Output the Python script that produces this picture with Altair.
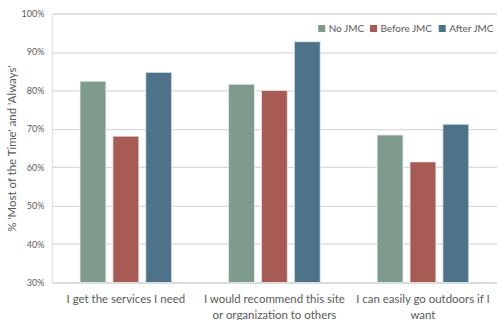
import altair as alt
import pandas as pd

categories = [
    "I get the services I need",
    "I would recommend this site\nor organization to others",
    "I can easily go outdoors if I\nwant",
]
series = ["No JMC", "Before JMC", "After JMC"]
no_jmc = [82.4, 81.6, 68.4]
before_jmc = [68.1, 80.0, 61.4]
after_jmc = [84.7, 92.7, 71.2]
colors = ["#7f9b8d", "#a85b55", "#4e7389"]

rows = []
for i, c in enumerate(categories):
    for s, vals in zip(series, [no_jmc, before_jmc, after_jmc]):
        rows.append({"cat": c, "series": s, "value": vals[i] / 100})
df = pd.DataFrame(rows)

FONT = "Lato"
GRAY = "#595959"

chart = (
    alt.Chart(df)
    .mark_bar(stroke="#e8eef0", strokeWidth=0.8)
    .encode(
        x=alt.X(
            "cat:N",
            sort=categories,
            scale=alt.Scale(paddingInner=0.383, paddingOuter=0.19),
            axis=alt.Axis(
                title=None,
                labelAngle=0,
                labelExpr="split(datum.label, '\\n')",
                labelFont=FONT,
                labelFontSize=11.5,
                labelColor=GRAY,
                labelPadding=11,
                labelLineHeight=16,
                ticks=False,
                domainColor="#d9d9d9",
                labelLimit=200,
            ),
        ),
        xOffset=alt.XOffset(
            "series:N",
            sort=series,
            scale=alt.Scale(paddingInner=0.212, paddingOuter=0),
        ),
        y=alt.Y(
            "value:Q",
            scale=alt.Scale(domain=[0.3, 1.0], clamp=True),
            axis=alt.Axis(
                title="% 'Most of the Time' and 'Always'",
                format=".0%",
                values=[0.3, 0.4, 0.5, 0.6, 0.7, 0.8, 0.9, 1.0],
                labelFont=FONT,
                labelFontSize=9,
                labelColor=GRAY,
                labelPadding=8,
                titleFont=FONT,
                titleFontSize=11.5,
                titleFontWeight="normal",
                titleColor=GRAY,
                titlePadding=4,
                ticks=False,
                domain=False,
                gridColor="#d9d9d9",
                gridWidth=1.3,
            ),
        ),
        color=alt.Color(
            "series:N",
            sort=series,
            scale=alt.Scale(domain=series, range=colors),
            legend=alt.Legend(
                title=None,
                orient="none",
                legendX=266,
                legendY=10,
                direction="horizontal",
                symbolType="square",
                symbolSize=50,
                symbolStrokeWidth=0,
                labelFont=FONT,
                labelFontSize=10,
                labelColor=GRAY,
                labelOffset=2,
                columnPadding=4,
                padding=0,
            ),
        ),
    )
    .properties(
        width=447,
        height=270,
        padding={"left": 52, "top": 13, "right": 0, "bottom": 37},
        autosize=alt.AutoSizeParams(type="none"),
    )
    .configure_view(stroke=None)
    .configure(background="white")
)

chart.save("out.html", embed_options={"renderer": "svg", "actions": False})
